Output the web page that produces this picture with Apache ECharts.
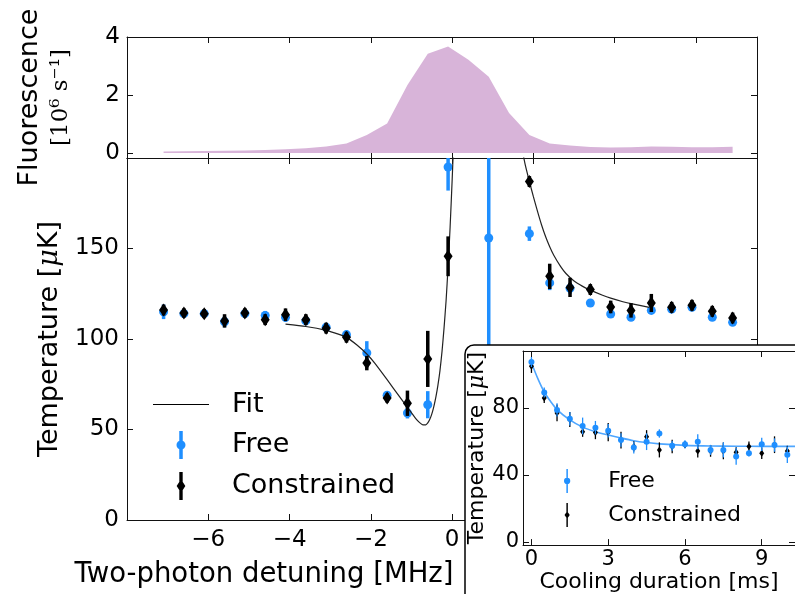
<!DOCTYPE html>
<html><head><meta charset="utf-8">
<script src="https://cdn.jsdelivr.net/npm/echarts@6/dist/echarts.min.js"></script>
<style>html,body{margin:0;padding:0;background:#fff}#c{width:795px;height:594px}</style>
</head><body><div id="c"></div>
<script>
// ---- Fluorescence (top panel) ----
const fluoX = [-7.1,-6.6,-6.1,-5.6,-5.1,-4.6,-4.1,-3.6,-3.1,-2.6,-2.1,-1.6,-1.1,-0.6,-0.1,0.4,0.9,1.4,1.9,2.4,2.9,3.4,3.9,4.4,4.9,5.4,5.9,6.4,6.9];
const fluoVal = [0.05,0.06,0.07,0.08,0.09,0.11,0.13,0.17,0.23,0.33,0.62,1.02,2.35,3.42,3.67,3.22,2.63,1.38,0.62,0.33,0.26,0.21,0.19,0.2,0.23,0.22,0.2,0.2,0.22];

// ---- Temperature vs detuning (main panel) ----
const freeX = [-7.1,-6.6,-6.1,-5.6,-5.1,-4.6,-4.1,-3.6,-3.1,-2.6,-2.1,-1.6,-1.1,-0.6,-0.1,0.9,1.9,2.4,2.9,3.4,3.9,4.4,4.9,5.4,5.9,6.4,6.9];
const freeT = [115,114,114,109.5,114,113,112,110,106.5,102.4,92.3,68.9,59.1,63.7,195,155.8,158.2,131,128,119.9,113.8,112,115.8,116.5,117.5,112,109.2];
const freeErr = [4,2,2,3,2,2.5,2.5,2,2,2.5,6.5,2,3,7.5,13,100,4,4,3,2,2,2,2,2,2,2,2];

const consX = [-7.1,-6.6,-6.1,-5.6,-5.1,-4.6,-4.1,-3.6,-3.1,-2.6,-2.1,-1.6,-1.1,-0.6,-0.1,1.9,2.4,2.9,3.4,3.9,4.4,4.9,5.4,5.9,6.4,6.9];
const consT = [116,114.4,114,110,114.4,110.7,113.4,110.7,106,101,86.7,67.4,64.5,89,145.7,187,134.6,128.5,127.3,117.7,115.8,119.9,117.5,118.6,115.3,111.6];
const consErr = [3,2.5,2.5,3.7,2.5,3,3.5,3,3,3,4,2.5,7,15.5,11,3,7,5.3,3,3.5,4,5,3,3,3,3];

const fitLeftX = [-4.1,-3.6,-3.1,-2.8,-2.6,-2.35,-2.1,-1.9,-1.6,-1.3,-1.1,-0.9,-0.8,-0.72,-0.65,-0.6,-0.55,-0.5,-0.45,-0.4,-0.35,-0.3,-0.25,-0.2,-0.15,-0.1,-0.05,0.0,0.03];
const fitLeftT = [108.2,106.9,104.8,102.7,100.9,96.8,91.7,86.5,77.5,68.3,62.2,56.2,53.8,52.6,52.6,53.6,55.6,58.6,62.8,68,74.5,82.5,93,106,121,140,162,188,205];
const fitRightX = [1.72,1.8,1.9,2.0,2.1,2.2,2.3,2.4,2.5,2.67,2.8,3.0,3.2,3.4,3.7,3.9,4.2,4.4,4.85];
const fitRightT = [205,196,187,178.5,170.5,163,156.5,151,146.3,140,136.2,132,129.2,127,124.2,122.6,120.6,119.5,117.5];

// ---- Inset: temperature vs cooling duration ----
const coolX = [0,0.5,1,1.5,2,2.5,3,3.5,4,4.5,5,5.5,6,6.5,7,7.5,8,8.5,9,9.5,10];
const freeCool = [107.4,89.2,78.8,73.5,69.2,68.2,66.3,60.8,56.3,59.8,64.7,57.4,58.2,59.8,54.9,54.9,51,52.9,58.2,57.8,52];
const freeCoolErr = [3,3,4,4,5,4,4,4,3.5,5,2.5,3,2.5,4.5,3,4.5,5,2,4,4,5];
const consCool = [104.9,85.9,77,73.1,65.7,65.3,65.5,60.8,57,62.7,54.9,56.9,58,54.3,54.3,54.3,53.5,56.9,52.9,58,54.3];
const consCoolErr = [4,3,5,4.5,3,4,5.5,5,3,4,4.5,4,2,4,3.5,5,3,3,3.5,5,3];
const fitCoolX = [0,0.25,0.5,0.75,1,1.5,2,2.5,3,3.5,4,4.5,5,6,7,8,9,10,10.5];
const fitCoolT = [107,97.5,89.5,83.8,79,72.8,68.5,65.8,63.8,62,60.4,59.3,58.5,57.6,57.2,57.1,57,57,57];

// ---- tick labels ----
const topYTicks = [0,2,4];
const mainXTicks = [-6,-4,-2,0,2,4,6];
const mainYTicks = [0,50,100,150];
const insetXTicks = [0,3,6,9];
const insetYTicks = [0,40,80];

const BLUE = '#1f8fff';
const PINK = '#d8b4d9';
const FONT = 'DejaVu Sans';

const zip2 = (a, b) => a.map((v, i) => [v, b[i]]);
const zip3 = (a, b, c) => a.map((v, i) => [v, b[i], c[i]]);
const minus = v => (v < 0 ? '\u2212' + (-v) : String(v));

function errRender(width, color) {
  return function (params, api) {
    const x = api.value(0), y = api.value(1), e = api.value(2);
    const p1 = api.coord([x, y - e]);
    const p2 = api.coord([x, y + e]);
    return { type: 'line', shape: { x1: p1[0], y1: p1[1], x2: p2[0], y2: p2[1] },
             style: { stroke: color, lineWidth: width } };
  };
}

const lineCol = '#111';
function axisBase(gridIndex, min, max, position, ticks, showLabel, labelOpt, z) {
  return {
    type: 'value', gridIndex, min, max, position, z: z || 0,
    axisLine: { show: true, onZero: false, lineStyle: { color: lineCol, width: 1 } },
    axisTick: { show: true, inside: true, length: 6, customValues: ticks, lineStyle: { color: lineCol, width: 1 } },
    axisLabel: Object.assign({ show: showLabel, customValues: ticks, color: '#000', fontFamily: FONT, fontSize: 23, formatter: minus }, labelOpt || {}),
    splitLine: { show: false }
  };
}

const xAxis = [
  axisBase(0, -8, 7.5, 'bottom', mainXTicks, false),
  axisBase(0, -8, 7.5, 'top', mainXTicks, false),
  Object.assign(axisBase(1, -8, 7.5, 'bottom', mainXTicks, true, { margin: 9 }), {
    name: 'Two-photon detuning [MHz]', nameLocation: 'middle', nameGap: 41,
    nameTextStyle: { fontSize: 27.5, fontFamily: FONT, color: '#000', padding: [0, 356, 0, 0] }
  }),
  axisBase(1, -8, 7.5, 'top', mainXTicks, false),
  Object.assign(axisBase(2, -0.33, 10.3, 'bottom', insetXTicks, true, { fontSize: 21, margin: 4 }, 60), {
    name: 'Cooling duration [ms]', nameLocation: 'middle', nameGap: 22,
    nameTextStyle: { fontSize: 22, fontFamily: FONT, color: '#000' }
  }),
  axisBase(2, -0.33, 10.3, 'top', insetXTicks, false, null, 60)
];

const yAxis = [
  Object.assign(axisBase(0, -0.17, 4, 'left', topYTicks, true, { margin: 7 }), {
    name: '{a|Fluorescence}\n{b|[10\u2076 s\u207B\u00B9]}', nameLocation: 'middle', nameGap: 52,
    nameTextStyle: { color: '#000', rich: {
      a: { fontSize: 27, fontFamily: FONT, color: '#000', lineHeight: 34 },
      b: { fontSize: 23, fontFamily: 'DejaVu Serif', color: '#000', lineHeight: 28 }
    } }
  }),
  axisBase(0, -0.17, 4, 'right', topYTicks, false),
  Object.assign(axisBase(1, 0, 200, 'left', mainYTicks, true, { margin: 8 }), {
    name: 'Temperature [{i|\u03BC}K]', nameLocation: 'middle', nameGap: 64,
    nameTextStyle: { fontSize: 27, fontFamily: FONT, color: '#000', rich: {
      i: { fontSize: 27, fontFamily: 'DejaVu Serif', fontStyle: 'italic', color: '#000' }
    } }
  }),
  axisBase(1, 0, 200, 'right', mainYTicks, false),
  Object.assign(axisBase(2, -2, 114, 'left', insetYTicks, true, { fontSize: 21, margin: 4 }, 60), {
    name: 'Temperature [{i|\u03BC}K]', nameLocation: 'middle', nameGap: 29,
    nameTextStyle: { fontSize: 22, fontFamily: FONT, color: '#000', rich: {
      i: { fontSize: 22, fontFamily: 'DejaVu Serif', fontStyle: 'italic', color: '#000' }
    } }
  }),
  axisBase(2, -2, 114, 'right', insetYTicks, false, null, 60)
];

const freeIconMain = 'path://M3.25,0H6.75V28H3.25Z M0.5,14A4.5,4.5 0 1 1 9.5,14A4.5,4.5 0 1 1 0.5,14Z';
const consIconMain = 'path://M3.25,0H6.75V29H3.25Z M5,7.5L9.5,14.5L5,21.5L0.5,14.5Z';
const fitIconMain = 'path://M0,0H56V1.2H0Z';
const freeIconInset = 'path://M4.3,0H5.7V23H4.3Z M2,11.5A3,3 0 1 1 8,11.5A3,3 0 1 1 2,11.5Z';
const consIconInset = 'path://M4.3,0H5.7V23H4.3Z M5,8L7.5,11.5L5,15L2.5,11.5Z';

const option = {
  animation: false,
  backgroundColor: '#fff',
  grid: [
    { left: 127, top: 37, right: 38, height: 121 },
    { left: 127, top: 158, right: 38, bottom: 72 },
    { left: 523, top: 351, right: -5.5, bottom: 46 }
  ],
  xAxis, yAxis,
  legend: [
    {
      left: 148, top: 386, orient: 'vertical', itemWidth: 56, itemHeight: 28, itemGap: 13,
      selectedMode: false,
      data: [{ name: 'Fit', icon: fitIconMain }, { name: 'Free', icon: freeIconMain }, { name: 'Constrained', icon: consIconMain }],
      textStyle: { fontSize: 27, fontFamily: FONT, color: '#000', padding: [0, 0, 0, 18] }
    },
    {
      left: 559, top: 464, orient: 'vertical', itemWidth: 30, itemHeight: 24, itemGap: 10, z: 80,
      selectedMode: false,
      data: [{ name: 'Free', icon: freeIconInset }, { name: 'Constrained', icon: consIconInset }],
      textStyle: { fontSize: 22, fontFamily: FONT, color: '#000', padding: [0, 0, 0, 21] }
    }
  ],
  graphic: { elements: [
    { type: 'rect', z: 50, shape: { x: 465, y: 345, width: 420, height: 320, r: 9 },
      style: { fill: '#fff', stroke: '#000', lineWidth: 1.5 } }
  ] },
  series: [
    { name: 'Fluorescence', type: 'line', xAxisIndex: 0, yAxisIndex: 0, data: zip2(fluoX, fluoVal),
      symbol: 'none', lineStyle: { width: 0, color: PINK }, itemStyle: { color: PINK },
      areaStyle: { color: PINK, opacity: 1 } },

    { name: 'Free err', type: 'custom', xAxisIndex: 2, yAxisIndex: 2, clip: true,
      renderItem: errRender(3.5, BLUE), encode: { x: 0, y: 1 }, data: zip3(freeX, freeT, freeErr), z: 3 },
    { name: 'Free', type: 'scatter', xAxisIndex: 2, yAxisIndex: 2, symbol: 'circle', symbolSize: 9,
      itemStyle: { color: BLUE, opacity: 1 }, data: zip2(freeX, freeT), z: 3 },
    { name: 'Fit', type: 'line', xAxisIndex: 2, yAxisIndex: 2, data: zip2(fitLeftX, fitLeftT),
      symbol: 'none', smooth: 0.2, lineStyle: { color: '#222', width: 1.2 }, itemStyle: { color: '#000' }, z: 4 },
    { name: 'Fit', type: 'line', xAxisIndex: 2, yAxisIndex: 2, data: zip2(fitRightX, fitRightT),
      symbol: 'none', smooth: 0.2, lineStyle: { color: '#222', width: 1.2 }, itemStyle: { color: '#000' }, z: 4 },
    { name: 'Constrained err', type: 'custom', xAxisIndex: 2, yAxisIndex: 2, clip: true,
      renderItem: errRender(3.5, '#000'), encode: { x: 0, y: 1 }, data: zip3(consX, consT, consErr), z: 5 },
    { name: 'Constrained', type: 'scatter', xAxisIndex: 2, yAxisIndex: 2, symbol: 'diamond', symbolSize: [9, 13],
      itemStyle: { color: '#000', opacity: 1 }, data: zip2(consX, consT), z: 5 },

    { name: 'Inset fit', type: 'line', xAxisIndex: 4, yAxisIndex: 4, data: zip2(fitCoolX, fitCoolT),
      symbol: 'none', smooth: 0.3, lineStyle: { color: '#4ea6ff', width: 1.6 }, z: 70 },
    { name: 'Constrained err', type: 'custom', xAxisIndex: 4, yAxisIndex: 4, clip: true,
      renderItem: errRender(1.3, '#000'), encode: { x: 0, y: 1 }, data: zip3(coolX, consCool, consCoolErr), z: 71 },
    { name: 'Constrained', type: 'scatter', xAxisIndex: 4, yAxisIndex: 4, symbol: 'diamond', symbolSize: [5, 7],
      itemStyle: { color: '#000', opacity: 1 }, data: zip2(coolX, consCool), z: 71 },
    { name: 'Free err', type: 'custom', xAxisIndex: 4, yAxisIndex: 4, clip: true,
      renderItem: errRender(1.3, BLUE), encode: { x: 0, y: 1 }, data: zip3(coolX, freeCool, freeCoolErr), z: 72 },
    { name: 'Free', type: 'scatter', xAxisIndex: 4, yAxisIndex: 4, symbol: 'circle', symbolSize: 6,
      itemStyle: { color: BLUE, opacity: 1 }, data: zip2(coolX, freeCool), z: 72 }
  ]
};

const chart = echarts.init(document.getElementById('c'), null, { renderer: 'canvas' });
chart.setOption(option);
</script>
</body></html>
